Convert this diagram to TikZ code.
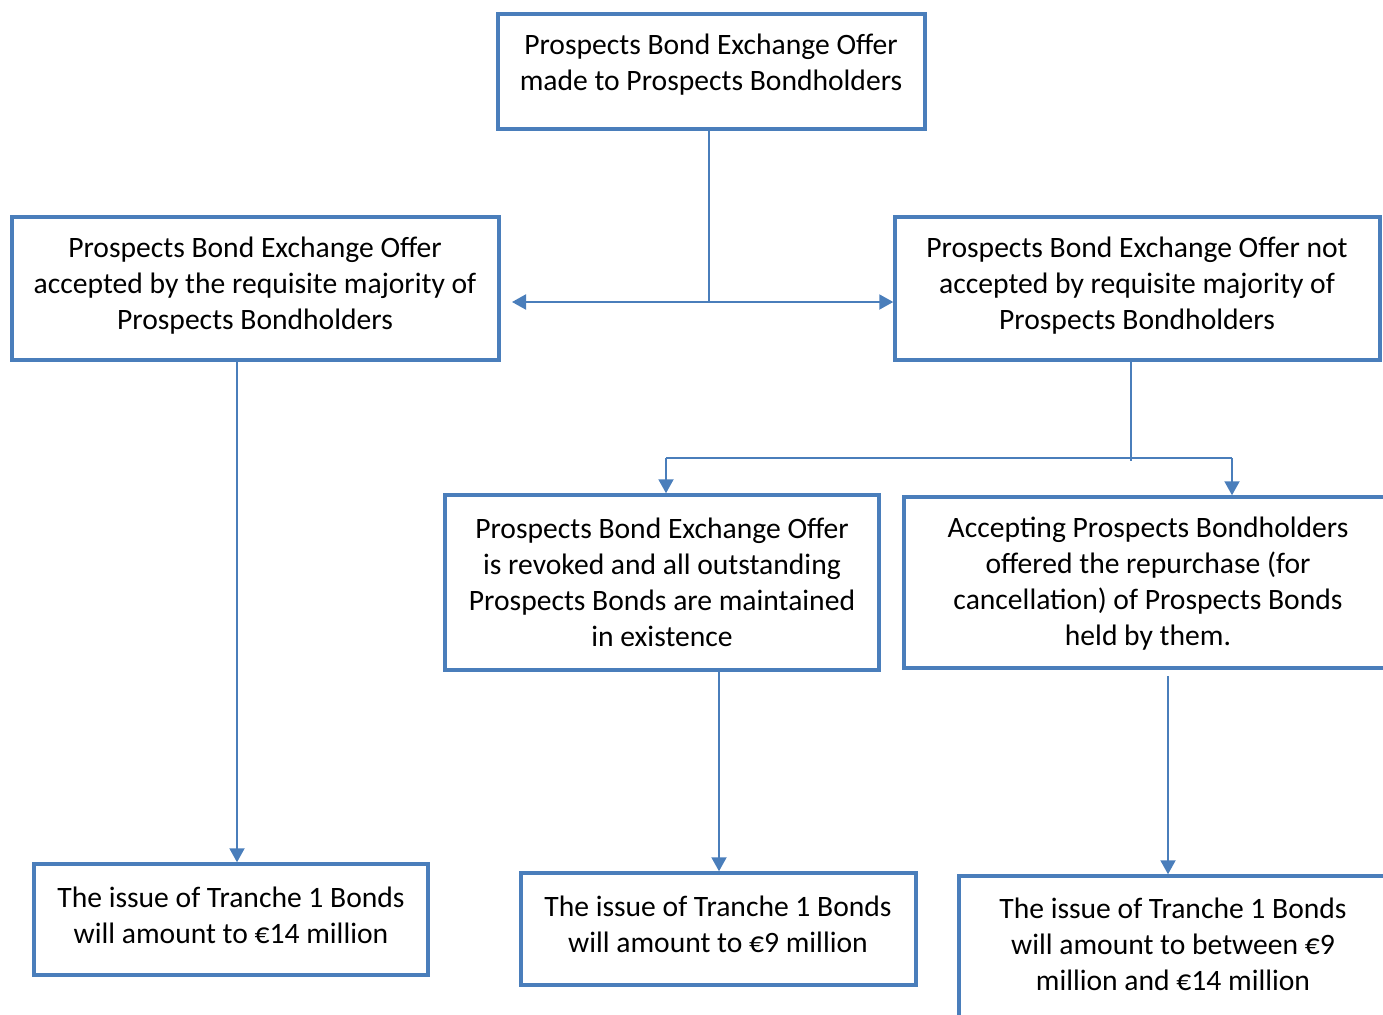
\documentclass[tikz,border=0pt]{standalone}
\usepackage{fontspec}
\setmainfont{Carlito}
\usetikzlibrary{arrows.meta}
\definecolor{bl}{HTML}{4A7EBB}
\tikzset{
  box/.style={draw=bl, line width=3.5pt, fill=white, inner sep=0pt},
  txt/.style={align=center, inner sep=0pt, font=\fontsize{29.6}{36}\selectfont},
  conn/.style={draw=bl, line width=2pt},
  arr/.style={conn, -{Triangle[length=14pt,width=15pt]}}
}
\begin{document}
\begin{tikzpicture}[x=1pt,y=-1pt]
\useasboundingbox (0,0) rectangle (1383,1014);
\clip (0,0) rectangle (1383,1014);
% boxes
\node[box, minimum width=427pt, minimum height=115pt] (top) at (711.5,71.5) {};
\node[box, minimum width=487pt, minimum height=143pt] (left) at (255.5,288.5) {};
\node[box, minimum width=485pt, minimum height=143pt] (right) at (1137.5,288.5) {};
\node[box, minimum width=434pt, minimum height=175pt] (mid) at (662,582.5) {};
\node[box, minimum width=490pt, minimum height=171pt] (rmid) at (1149,582.5) {};
\node[box, minimum width=394pt, minimum height=111pt] (bl) at (231,919.5) {};
\node[box, minimum width=395pt, minimum height=112pt] (bm) at (718.5,929) {};
\node[box, minimum width=430pt, minimum height=150pt] (br) at (1174,951) {};
% texts
\node[txt] (ttop) at (711,65) {Prospects Bond Exchange Offer\\made to Prospects Bondholders};
\node[txt] (tleft) at (255,286) {Prospects Bond Exchange Offer\\accepted by the requisite majority of\\Prospects Bondholders};
\node[txt] (tright) at (1137,286) {Prospects Bond Exchange Offer not\\accepted by requisite majority of\\Prospects Bondholders};
\node[txt] (tmid) at (662,582) {Prospects Bond Exchange Offer\\is revoked and all outstanding\\Prospects Bonds are maintained\\in existence};
\node[txt] (trmid) at (1148,583.5) {Accepting Prospects Bondholders\\offered the repurchase (for\\cancellation) of Prospects Bonds\\held by them.};
\node[txt] (tbl) at (231,915) {The issue of Tranche 1 Bonds\\will amount to €14 million};
\node[txt] (tbm) at (718,924.5) {The issue of Tranche 1 Bonds\\will amount to €9 million};
\node[txt] (tbr) at (1173,944) {The issue of Tranche 1 Bonds\\will amount to between €9\\million and €14 million};
% connectors
\coordinate (j1) at (709,302);
\coordinate (jL) at (512,302);
\draw[conn] (j1 |- top.south) -- (j1);
\draw[arr] (j1) -- (jL);
\draw[arr] (j1) -- (right.west |- j1);
\coordinate (j2) at (1131,461);
\coordinate (hL) at (666,458);
\coordinate (hR) at (1232,458);
\draw[conn] (j2 |- right.south) -- (j2);
\draw[conn] (hL) -- (hR);
\draw[arr] (hL) -- (hL |- mid.north);
\draw[arr] (hR) -- (hR |- rmid.north);
\draw[arr] (237,0 |- left.south) -- (237,0 |- bl.north);
\draw[arr] (719,0 |- mid.south) -- (719,0 |- bm.north);
\coordinate (k) at (1168,676);
\draw[arr] (k) -- (k |- br.north);
\end{tikzpicture}
\end{document}
